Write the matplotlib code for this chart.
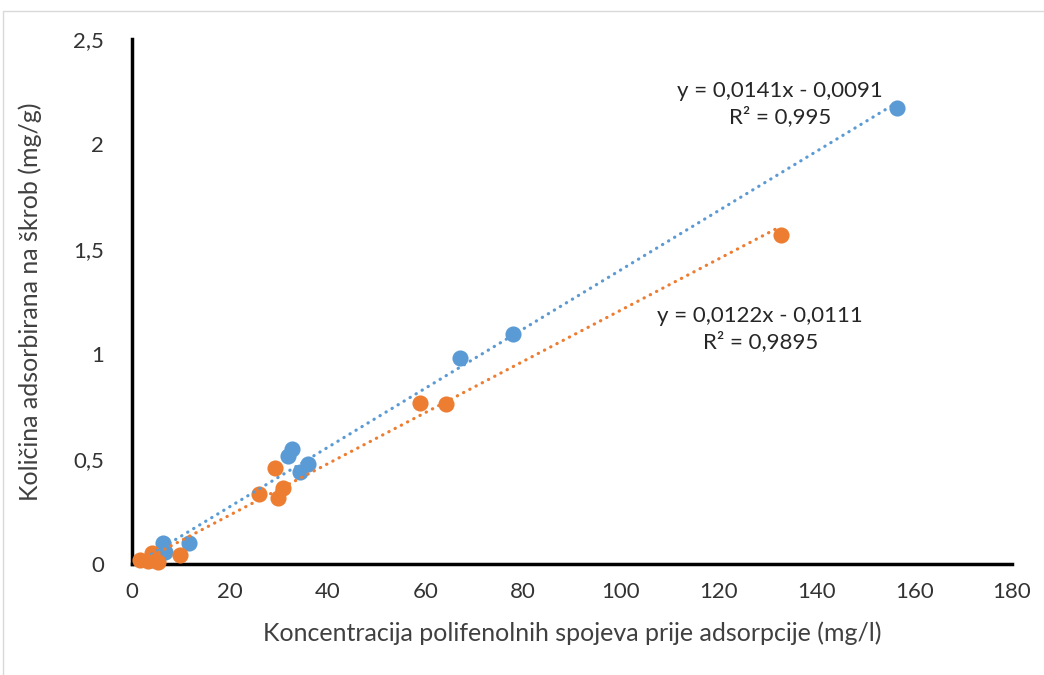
import matplotlib.pyplot as plt
import numpy as np
from matplotlib.patches import Rectangle

# series
blue_x = [4.0, 6.4, 6.75, 11.7, 32.0, 32.7, 34.4, 36.1, 67.1, 77.9, 156.5]
blue_y = [0.02, 0.099, 0.059, 0.10, 0.514, 0.546, 0.44, 0.476, 0.981, 1.095, 2.171]
orange_x = [1.6, 3.3, 4.0, 5.4, 9.8, 26.0, 29.2, 29.9, 30.8, 58.9, 64.2, 132.7]
orange_y = [0.019, 0.015, 0.051, 0.011, 0.043, 0.333, 0.456, 0.316, 0.36, 0.767, 0.762, 1.567]

# trendline coefficients as printed on the chart
blue_fit = (0.0141, -0.0091)
orange_fit = (0.0122, -0.0111)
blue_label = "y = 0,0141x - 0,0091\nR² = 0,995"
orange_label = "y = 0,0122x - 0,0111\nR² = 0,9895"

x_ticks = [0, 20, 40, 60, 80, 100, 120, 140, 160, 180]
y_ticks = [0, 0.5, 1, 1.5, 2, 2.5]
y_tick_labels = ["0", "0,5", "1", "1,5", "2", "2,5"]

BLUE = "#5B9BD5"
ORANGE = "#ED7D31"

plt.rcParams["font.family"] = ["Lato", "DejaVu Sans"]

fig = plt.figure(figsize=(10.44, 6.75), dpi=100)
# light frame round the chart area
fig.patches.append(Rectangle((3 / 1044, -0.01), 1.1, 1 - 11 / 675 + 0.01,
                             transform=fig.transFigure, fill=False,
                             edgecolor="#d9d9d9", lw=1))
ax = fig.add_axes([132 / 1044, 1 - 564 / 675, 880 / 1044, 525 / 675])

for xs, ys, col, fit in [(blue_x, blue_y, BLUE, blue_fit),
                         (orange_x, orange_y, ORANGE, orange_fit)]:
    ax.scatter(xs, ys, s=135, color=col, zorder=3, linewidths=0, clip_on=False)
    xl = np.array([min(xs), max(xs)])
    ax.plot(xl, fit[0] * xl + fit[1], color=col, lw=2.3,
            linestyle=(0, (0.1, 2.1)), dash_capstyle="round", zorder=4)

ax.text(132.5, 2.19, blue_label, ha="center", va="center", fontsize=16,
        linespacing=1.3, color="#262626")
ax.text(128.5, 1.12, orange_label, ha="center", va="center", fontsize=16,
        linespacing=1.3, color="#262626")

ax.set_xlim(0, 180)
ax.set_ylim(0, 2.5)
ax.set_xticks(x_ticks)
ax.set_yticks(y_ticks)
ax.set_yticklabels(y_tick_labels)
ax.tick_params(length=0, labelsize=16, colors="#333333", pad=13)
ax.tick_params(axis="y", pad=20)
for s in ["top", "right"]:
    ax.spines[s].set_visible(False)
for s in ["left", "bottom"]:
    ax.spines[s].set_linewidth(2.5)
    ax.spines[s].set_color("black")

ax.set_xlabel("Koncentracija polifenolnih spojeva prije adsorpcije (mg/l)",
              fontsize=18, color="#404040", labelpad=14)
ax.set_ylabel("Količina adsorbirana na škrob (mg/g)", fontsize=18,
              color="#404040")
ax.yaxis.set_label_coords(-(132 - 42) / 880, 0.5)

fig.savefig("out.png", dpi=100)
